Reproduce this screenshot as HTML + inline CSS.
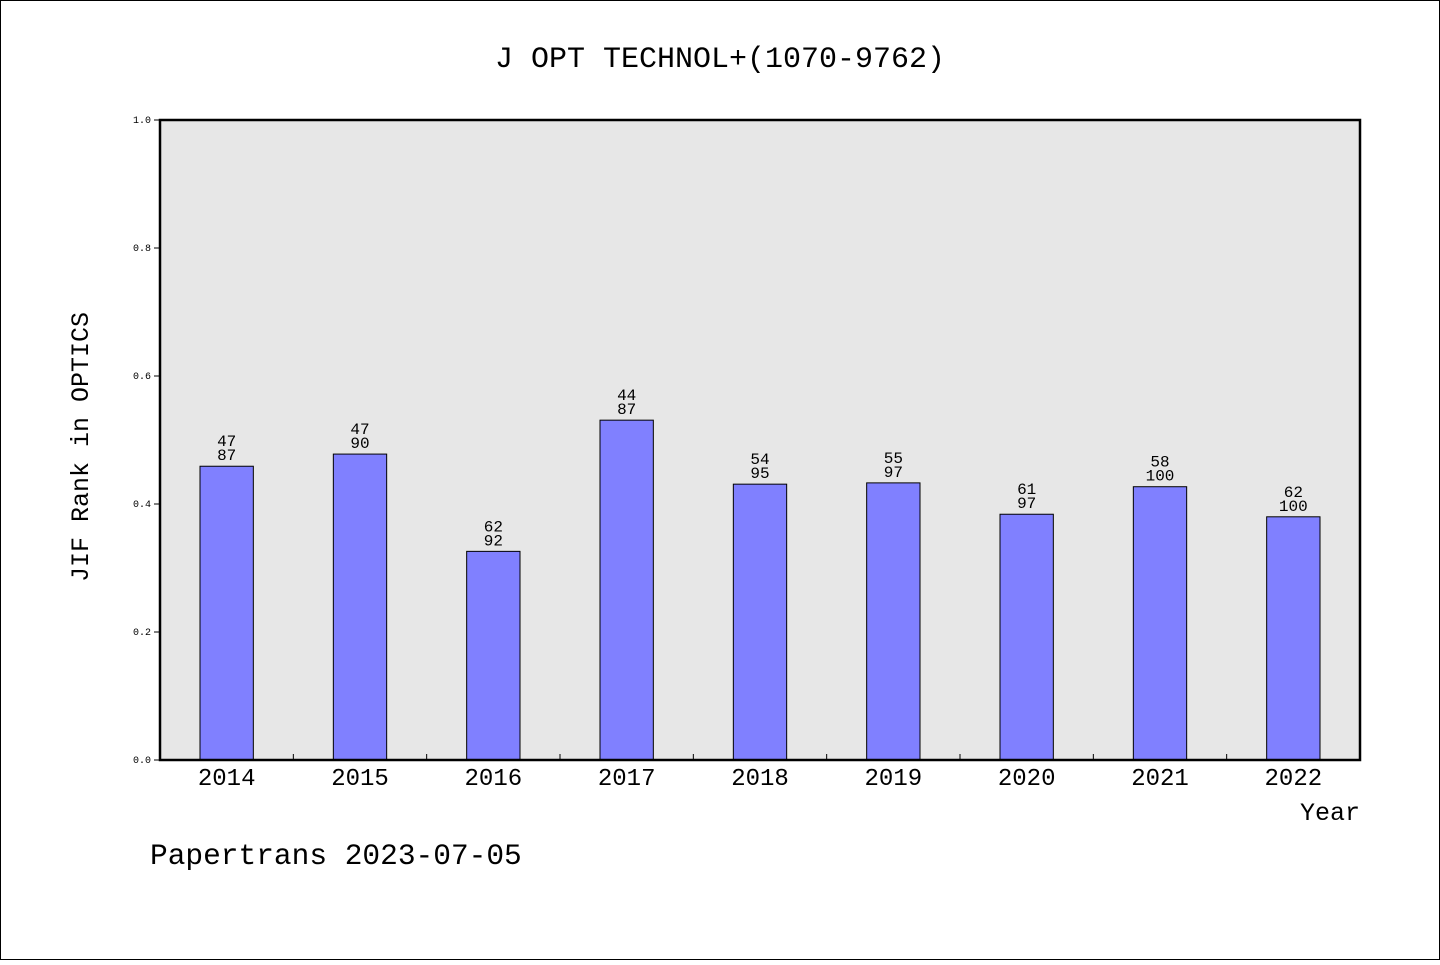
<!DOCTYPE html>
<html><head><meta charset="utf-8"><style>
body{margin:0;background:#fff}
svg text{font-family:"Liberation Mono",monospace;fill:#000}
</style></head><body>
<svg width="1440" height="960" xmlns="http://www.w3.org/2000/svg">
<rect x="0.5" y="0.5" width="1439" height="959" fill="#fff" stroke="#000"/>
<text x="720" y="67" font-size="30" text-anchor="middle">J OPT TECHNOL+(1070-9762)</text>
<rect x="160" y="120" width="1200" height="640" fill="#e7e7e7"/>
<g id="marks"></g>
<rect x="160" y="120" width="1200" height="640" fill="none" stroke="#000" stroke-width="2.5"/>
<text transform="translate(88,447) rotate(-90)" font-size="25" text-anchor="middle">JIF Rank in OPTICS</text>
<text x="1360" y="820" font-size="25" text-anchor="end">Year</text>
<text x="150" y="864" font-size="29.5">Papertrans 2023-07-05</text>
</svg>
<script>
const years=["2014","2015","2016","2017","2018","2019","2020","2021","2022"];
const values=[0.459,0.478,0.326,0.531,0.431,0.433,0.384,0.427,0.380];
const ranks=["47","47","62","44","54","55","61","58","62"];
const totals=["87","90","92","87","95","97","97","100","100"];
const yTicks=[0,0.2,0.4,0.6,0.8,1.0];
const NS="http://www.w3.org/2000/svg";
const g=document.getElementById('marks');
const X0=160,W=1200,Y0=760,H=640;
const step=W/years.length;
const xC=i=>X0+step*(i+0.5);
const yS=v=>Y0-v*H;
function mk(t,a){const e=document.createElementNS(NS,t);for(const k in a)e.setAttribute(k,a[k]);g.appendChild(e);return e;}
yTicks.forEach(v=>{
 const l=mk('line',{x1:154,x2:160,y1:yS(v),y2:yS(v),stroke:'#000'});
 
 
 const t=mk('text',{x:151,y:yS(v)+3,'font-size':10,'text-anchor':'end'});t.textContent=v.toFixed(1);
 
 
});
years.forEach((y,i)=>{
 const bw=step*0.4,top=yS(values[i]);
 const r=mk('rect',{x:xC(i)-bw/2,y:top,width:bw,height:Y0-top,fill:'#8080ff',stroke:'#000','stroke-width':1});
 
 
 const a=mk('text',{x:xC(i),y:top-20,'font-size':16,'text-anchor':'middle'});a.textContent=ranks[i];
 
 
 const b=mk('text',{x:xC(i),y:top-6,'font-size':16,'text-anchor':'middle'});b.textContent=totals[i];
 
 
 const t=mk('text',{x:xC(i),y:785,'font-size':24,'text-anchor':'middle'});t.textContent=y;
 
 
 if(i>0){const l=mk('line',{x1:X0+step*i,x2:X0+step*i,y1:754,y2:760,stroke:'#000'});
 
 }
});
</script>
</body></html>
